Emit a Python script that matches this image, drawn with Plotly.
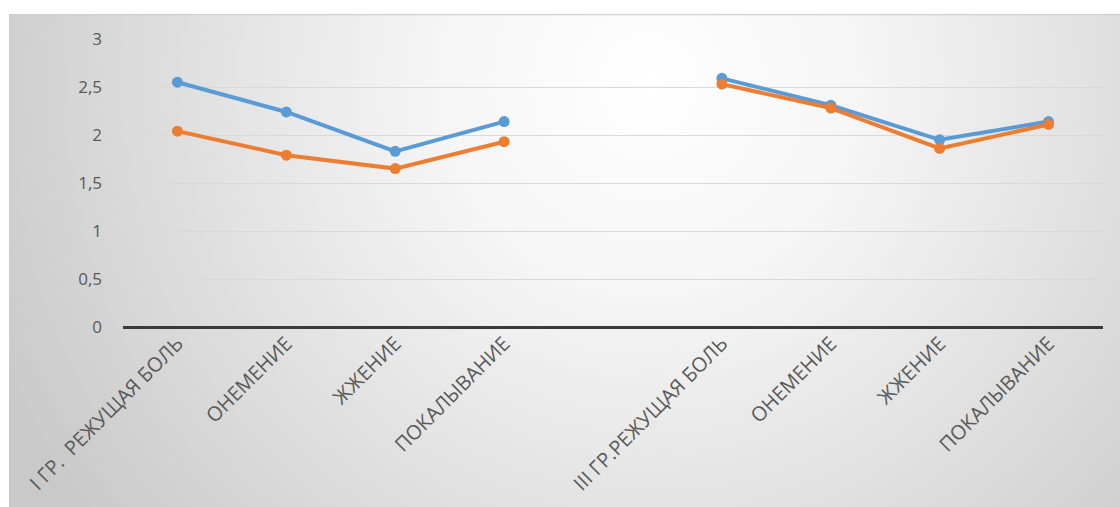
import base64
import plotly.graph_objects as go

# ---- data ----
x_labels = ["I ГР.  РЕЖУЩАЯ БОЛЬ", "ОНЕМЕНИЕ", "ЖЖЕНИЕ", "ПОКАЛЫВАНИЕ", "",
            "III ГР.РЕЖУЩАЯ БОЛЬ", "ОНЕМЕНИЕ", "ЖЖЕНИЕ", "ПОКАЛЫВАНИЕ"]
x_pos = list(range(len(x_labels)))
series_blue = [2.55, 2.24, 1.83, 2.14, None, 2.59, 2.31, 1.95, 2.14]
series_orange = [2.04, 1.79, 1.65, 1.93, None, 2.53, 2.28, 1.86, 2.11]
y_ticks = [0, 0.5, 1, 1.5, 2, 2.5, 3]
y_tick_text = ["0", "0,5", "1", "1,5", "2", "2,5", "3"]

W, H = 1120, 507
L, R, T, B = 123, 17, 39, 180

# gradient background as svg data uri
svg = '''<svg xmlns="http://www.w3.org/2000/svg" width="1111" height="493" viewBox="0 0 1111 493" preserveAspectRatio="none">
<defs><radialGradient id="g" gradientUnits="userSpaceOnUse" cx="640" cy="70" r="720" fx="640" fy="70">
<stop offset="0" stop-color="#ffffff"/><stop offset="0.3" stop-color="#f5f5f5"/>
<stop offset="1" stop-color="#c9c9c9"/></radialGradient></defs>
<rect x="0" y="0" width="1111" height="493" fill="url(#g)"/>
<line x1="0" y1="0.5" x2="1111" y2="0.5" stroke="#cfcfcf" stroke-width="1.5"/>
</svg>'''
src = "data:image/svg+xml;base64," + base64.b64encode(svg.encode()).decode()

pw = W - L - R
ph = H - T - B
img_x0 = (9 - L) / pw
img_y1 = (H - B - 14) / ph

fig = go.Figure()
fig.add_trace(go.Scatter(x=x_pos, y=series_blue, mode="lines+markers",
                         line=dict(color="#5B9BD5", width=4),
                         marker=dict(size=11, color="#5B9BD5"),
                         connectgaps=False, showlegend=False))
fig.add_trace(go.Scatter(x=x_pos, y=series_orange, mode="lines+markers",
                         line=dict(color="#ED7D31", width=4),
                         marker=dict(size=11, color="#ED7D31"),
                         connectgaps=False, showlegend=False))

fig.add_layout_image(dict(source=src, xref="paper", yref="paper",
                          x=img_x0, y=img_y1, sizex=(W - 9) / pw, sizey=(H - 14) / ph,
                          xanchor="left", yanchor="top", sizing="stretch", layer="below"))

fig.update_layout(
    width=W, height=H,
    margin=dict(l=L, r=R, t=T, b=B, pad=0),
    paper_bgcolor="white", plot_bgcolor="rgba(0,0,0,0)",
    font=dict(family="Open Sans", color="#595959"),
    showlegend=False,
)
fig.update_xaxes(range=[-0.5, 8.5], tickmode="array", tickvals=x_pos, ticktext=x_labels,
                 tickangle=-45, showgrid=False, zeroline=False,
                 showline=False, tickfont=dict(size=20, color="#595959"), ticks="")
fig.update_yaxes(range=[0, 3], tickmode="array", tickvals=y_ticks, ticktext=y_tick_text,
                 showgrid=True, gridcolor="#d9d9d9", gridwidth=1,
                 zeroline=True, zerolinecolor="#3a3a3a", zerolinewidth=3,
                 showline=False, tickfont=dict(size=17, color="#595959"),
                 ticklabelstandoff=20)

fig.write_html("out.html")
